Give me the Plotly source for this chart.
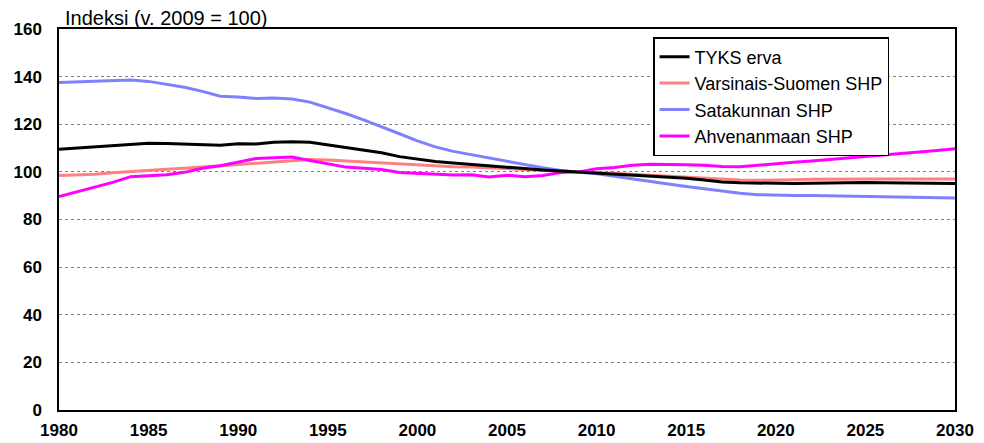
import plotly.graph_objects as go

years = list(range(1980, 2031))

tyks = [109.5, 110.0, 110.6, 111.3, 111.7, 112.0, 111.9, 111.7, 111.3, 111.2,
        111.8, 111.7, 112.4, 112.6, 112.4, 111.3, 110.2, 109.0, 108.0, 106.4,
        105.3, 104.4, 103.7, 103.2, 102.6, 102.0, 101.4, 100.8, 100.4, 100.0,
        99.5, 99.0, 98.6, 98.2, 97.8, 97.3, 96.6, 95.8, 95.4, 95.2,
        95.0, 95.1, 95.2, 95.4, 95.5, 95.5, 95.4, 95.3, 95.2, 95.2, 95.1]

varsinais = [98.5, 98.6, 99.0, 99.6, 100.2, 100.6, 101.1, 101.5, 102.0, 102.6,
             103.1, 103.5, 104.1, 104.8, 105.2, 105.0, 104.6, 104.0, 103.7, 103.3,
             102.9, 102.5, 102.2, 102.0, 101.7, 101.3, 100.9, 100.5, 100.2, 100.0,
             99.7, 99.3, 99.0, 98.6, 98.2, 97.8, 97.3, 96.8, 96.6, 96.5,
             96.5, 96.7, 96.9, 97.0, 97.0, 97.0, 97.0, 97.0, 97.0, 97.0, 97.0]

satakunta = [137.5, 137.8, 138.0, 138.6, 138.6, 138.0, 136.8, 135.5, 133.8, 131.8,
             131.4, 130.8, 131.0, 130.6, 129.3, 127.0, 124.5, 121.8, 119.0, 116.0,
             113.0, 110.5, 108.6, 107.2, 105.8, 104.3, 102.9, 101.7, 100.6, 100.0,
             99.2, 98.2, 97.0, 95.9, 94.9, 93.9, 92.9, 91.8, 91.0, 90.4,
             90.1, 90.1, 90.1, 90.0, 89.9, 89.7, 89.5, 89.3, 89.2, 89.1, 89.0]

ahvenanmaa = [89.6, 91.5, 93.6, 95.6, 98.0, 98.4, 98.8, 99.8, 101.5, 102.6,
              104.0, 105.6, 105.9, 106.2, 104.8, 103.5, 102.0, 101.5, 101.0, 99.7,
              99.3, 99.0, 98.7, 98.8, 97.8, 98.6, 98.0, 98.5, 99.7, 100.0,
              101.3, 101.8, 102.8, 103.2, 103.2, 103.0, 102.8, 102.3, 102.2, 102.7,
              103.3, 104.0, 104.6, 105.2, 105.9, 106.5, 107.0, 107.5, 108.2, 109.0, 109.7]

series_names = ["TYKS erva", "Varsinais-Suomen SHP", "Satakunnan SHP", "Ahvenanmaan SHP"]
series_values = [tyks, varsinais, satakunta, ahvenanmaa]
series_colors = ["#000000", "#FF8080", "#8080FF", "#FF00FF"]

x_ticks = list(range(1980, 2031, 5))
y_ticks = list(range(0, 161, 20))

fig = go.Figure()
# draw order: black drawn last so it sits on top, legend order kept via legendrank
for i in [2, 1, 3, 0]:
    fig.add_trace(go.Scatter(x=years, y=series_values[i], name=series_names[i],
                             mode="lines", line=dict(color=series_colors[i], width=3),
                             legendrank=i + 1))

font = "Liberation Sans, Arial, sans-serif"

fig.update_layout(
    width=984, height=443,
    margin=dict(l=59, r=29, t=29, b=33, autoexpand=False),
    paper_bgcolor="white", plot_bgcolor="white",
    font=dict(family=font, color="black"),
    showlegend=True,
    legend=dict(x=0.663, y=0.979, xanchor="left", yanchor="top",
                bgcolor="white", bordercolor="black", borderwidth=1.5,
                font=dict(size=18, family=font, color="black"),
                tracegroupgap=0),
    annotations=[dict(text="Indeksi (v. 2009 = 100)", xref="paper", yref="paper",
                      x=0.004, y=1.0, xanchor="left", yanchor="bottom", yshift=-2,
                      showarrow=False, font=dict(size=20, family=font, color="black"))],
)

fig.update_xaxes(range=[1980, 2030], tickvals=x_ticks,
                 ticktext=[f"<b>{v}</b>" for v in x_ticks],
                 showgrid=False, zeroline=False, automargin=False,
                 showline=True, linecolor="black", linewidth=1.5, mirror=True,
                 ticks="", ticklabelstandoff=4,
                 tickfont=dict(size=17, family=font, color="black"))
fig.update_yaxes(range=[0, 160], tickvals=y_ticks,
                 ticktext=[f"<b>{v}</b>" for v in y_ticks],
                 showgrid=True, gridcolor="#808080", gridwidth=1, griddash="dot",
                 zeroline=False, automargin=False,
                 showline=True, linecolor="black", linewidth=1.5, mirror=True,
                 ticks="", ticklabelstandoff=12,
                 tickfont=dict(size=17, family=font, color="black"))

fig.write_html("out.html", config={"displayModeBar": False},
               post_script="document.body.style.margin='0';document.body.style.overflow='hidden';")
